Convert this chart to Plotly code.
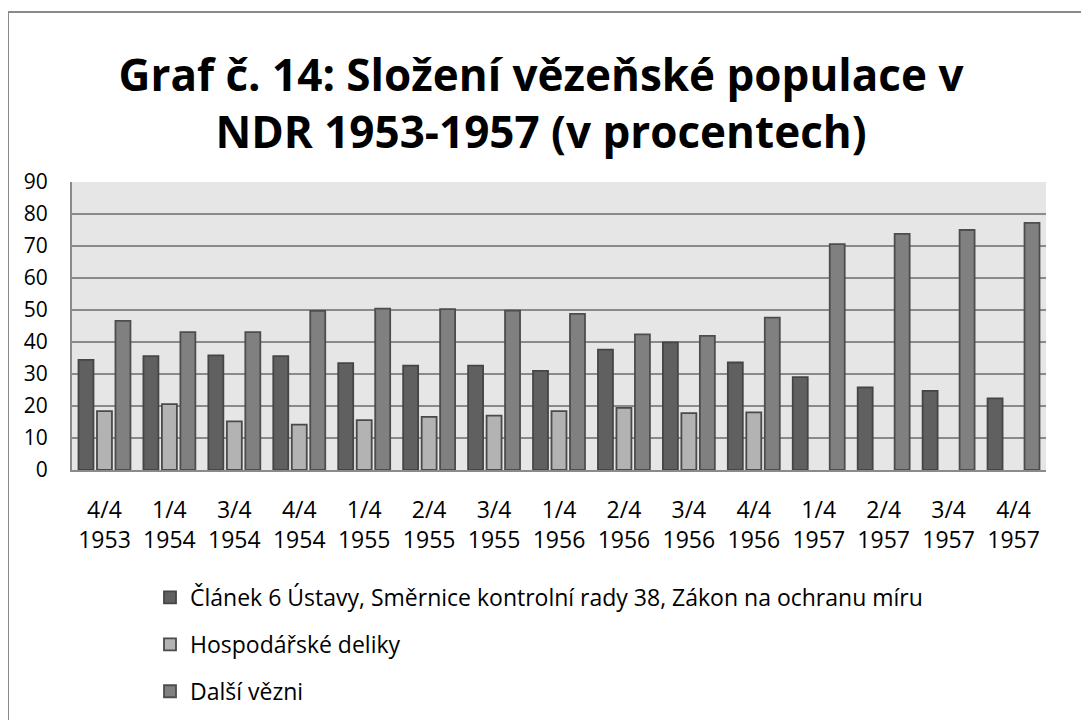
import plotly.graph_objects as go

categories = ["4/4<br>1953", "1/4<br>1954", "3/4<br>1954", "4/4<br>1954", "1/4<br>1955",
              "2/4<br>1955", "3/4<br>1955", "1/4<br>1956", "2/4<br>1956", "3/4<br>1956",
              "4/4<br>1956", "1/4<br>1957", "2/4<br>1957", "3/4<br>1957", "4/4<br>1957"]

clanek6 = [34.4, 35.6, 35.8, 35.6, 33.4, 32.6, 32.6, 31.0, 37.6, 39.9, 33.6, 29.0, 25.8, 24.7, 22.4]
hospodarske = [18.4, 20.6, 15.2, 14.2, 15.6, 16.6, 17.0, 18.4, 19.4, 17.8, 18.0, None, None, None, None]
dalsi = [46.6, 43.1, 43.1, 49.7, 50.4, 50.3, 49.8, 48.8, 42.4, 41.9, 47.6, 70.6, 73.8, 75.0, 77.2]

names = ["Článek 6 Ústavy, Směrnice kontrolní rady 38, Zákon na ochranu míru",
         "Hospodářské deliky",
         "Další vězni"]

FONT = "Open Sans"

fig = go.Figure()
fills = ["#606060", "#b3b3b3", "#808080"]
lines = ["#454545", "#4a4a4a", "#4d4d4d"]
for i, (vals, name) in enumerate(zip([clanek6, hospodarske, dalsi], names)):
    fig.add_trace(go.Bar(
        x=categories, y=vals, name=name, legendgroup=f"g{i}",
        marker=dict(color=fills[i], line=dict(color=lines[i], width=1.8)),
    ))

# page body has an 8px margin; figure coordinates are offset accordingly.
# Figure is taller than the window so the legend never forces auto-margins.
W, H = 1081, 780
L, R, T = 64, 43, 174
PLOT_BOTTOM = 462
B = H - PLOT_BOTTOM
pw, ph = W - L - R, H - T - B

fig.update_layout(
    width=W, height=H,
    margin=dict(l=L, r=R, t=T, b=B, autoexpand=False),
    paper_bgcolor="white",
    plot_bgcolor="#e6e6e6",
    barmode="group",
    bargap=0.146,
    bargroupgap=0.19,
    font=dict(family=FONT, color="#000000", size=21),
    title=dict(
        text="<b>Graf č. 14: Složení vězeňské populace v<br>NDR 1953-1957 (v procentech)</b>",
        x=(541 - 8) / W, xanchor="center", xref="container",
        y=1 - 83 / H, yanchor="middle", yref="container",
        font=dict(family=FONT, size=44, color="#000000"),
    ),
    showlegend=True,
    legend=dict(
        orientation="v",
        x=(142 - L) / pw, xanchor="left",
        y=(PLOT_BOTTOM - 568) / ph, yanchor="top",
        font=dict(family=FONT, size=23, color="#000000"),
        tracegroupgap=14,
        bgcolor="rgba(0,0,0,0)",
        traceorder="grouped",
    ),
    xaxis=dict(
        showline=True, linecolor="#8a8a8a", linewidth=2,
        ticks="", showgrid=False,
        ticklabelstandoff=18,
        tickfont=dict(family=FONT, size=23, color="#000000"),
    ),
    yaxis=dict(
        range=[0, 90], dtick=10,
        showline=True, linecolor="#8a8a8a", linewidth=2,
        showgrid=True, gridcolor="#8a8a8a", gridwidth=2,
        ticks="", zeroline=False,
        ticklabelstandoff=18,
        tickfont=dict(family=FONT, size=21, color="#000000"),
    ),
    shapes=[dict(
        type="rect", xref="paper", yref="paper",
        x0=(0 - L) / pw, x1=1.2, y0=(PLOT_BOTTOM - 4) / ph, y1=-1.5,
        line=dict(color="#8a8a8a", width=2), fillcolor="rgba(0,0,0,0)", layer="below",
    )],
)

fig.write_html("out.html")
